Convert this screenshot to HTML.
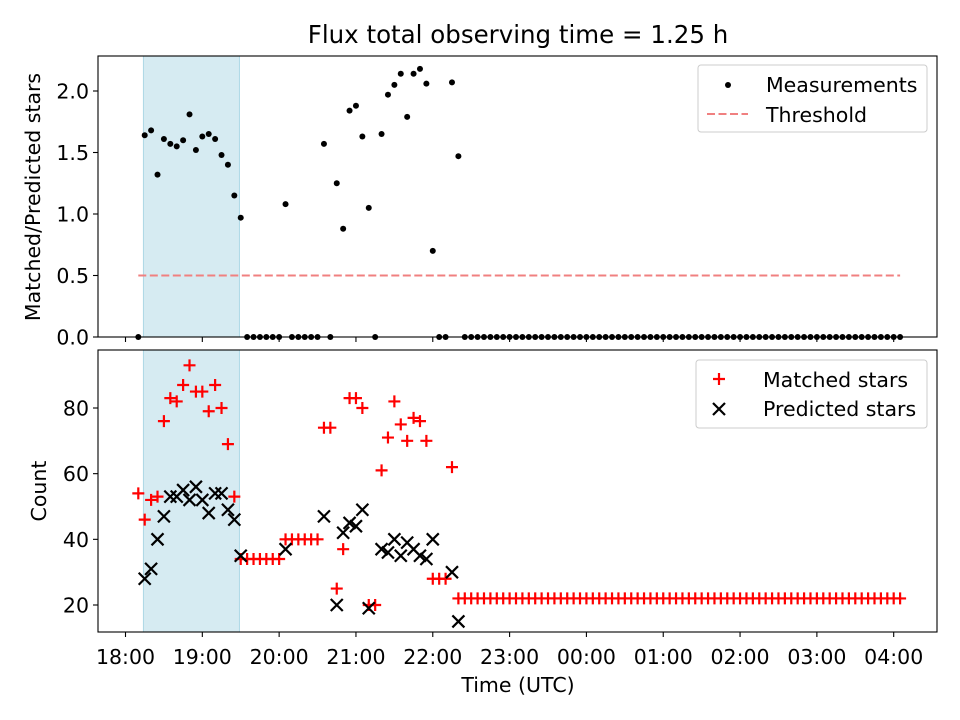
<!DOCTYPE html>
<html><head><meta charset="utf-8"><style>
body{margin:0;background:#fff;}
svg{display:block;font-family:"DejaVu Sans","Liberation Sans",sans-serif;}
</style></head><body>
<svg id="chart" width="960" height="720" viewBox="0 0 960 720" xmlns="http://www.w3.org/2000/svg"></svg>
<script>
const startMinutes = 10; // minutes after 18:00 for first sample
const stepMinutes = 5;
const xTickLabels = ["18:00","19:00","20:00","21:00","22:00","23:00","00:00","01:00","02:00","03:00","04:00"];
const ratioTicks = [0.0,0.5,1.0,1.5,2.0];
const countTicks = [20,40,60,80];
const threshold = 0.5;
const shadeStartMin = 14, shadeEndMin = 89;
const measurements = [0,1.64,1.68,1.32,1.61,1.57,1.55,1.60,1.81,1.52,1.63,1.65,1.61,1.48,1.40,1.15,0.97,0,0,0,0,0,0,1.08,0,0,0,0,0,1.57,0,1.25,0.88,1.84,1.88,1.63,1.05,0,1.65,1.97,2.05,2.14,1.79,2.14,2.18,2.06,0.70,0,0,2.07,1.47,
0,0,0,0,0,0,0,0,0,0,0,0,0,0,0,0,0,0,0,0,0,0,0,0,0,0,0,0,0,0,0,0,0,0,0,0,0,0,0,0,0,0,0,0,0,0,0,0,0,0,0,0,0,0,0,0,0,0,0,0,0,0,0,0,0,0,0,0,0];
const matched = [54,46,52,53,76,83,82,87,93,85,85,79,87,80,69,53,34,34,34,34,34,34,34,40,40,40,40,40,40,74,74,25,37,83,83,80,20,20,61,71,82,75,70,77,76,70,28,28,28,62,22,
22,22,22,22,22,22,22,22,22,22,22,22,22,22,22,22,22,22,22,22,22,22,22,22,22,22,22,22,22,22,22,22,22,22,22,22,22,22,22,22,22,22,22,22,22,22,22,22,22,22,22,22,22,22,22,22,22,22,22,22,22,22,22,22,22,22,22,22,22];
const predicted = [null,28,31,40,47,53,53,55,52,56,52,48,54,54,49,46,35,null,null,null,null,null,null,37,null,null,null,null,null,47,null,20,42,45,44,49,19,null,37,36,40,35,39,37,35,34,40,null,null,30,15];

const NS="http://www.w3.org/2000/svg";
const svg=document.getElementById('chart');
function mk(tag,attrs,parent){const e=document.createElementNS(NS,tag);for(const k in attrs)e.setAttribute(k,attrs[k]);(parent||svg).appendChild(e);return e;}
const X0=98,X1=937;
const FS=20.5;
const xs=m=>125.5+m*(768.2/600);
const TOP={y0:56,y1:337}, BOT={y0:350,y1:632};
const yr=v=>337-v*123;
const yc=v=>605-(v-20)*3.2833;
const DASH='8,3.5';

[TOP,BOT].forEach((p,k)=>{
  const r=mk('rect',{x:xs(shadeStartMin),y:p.y0,width:xs(shadeEndMin)-xs(shadeStartMin),height:p.y1-p.y0,fill:'#add8e6','fill-opacity':0.5,stroke:'#add8e6','stroke-width':1});
  
  
});

const t=mk('text',{x:518,y:43,'text-anchor':'middle','font-size':24.5});t.textContent='Flux total observing time = 1.25 h';



const tl=mk('line',{x1:xs(startMinutes),x2:xs(startMinutes+119*stepMinutes),y1:yr(threshold),y2:yr(threshold),stroke:'#f08080','stroke-width':2,'stroke-dasharray':DASH});



measurements.forEach((v,i)=>{
  const c=mk('circle',{cx:xs(startMinutes+i*stepMinutes),cy:yr(v),r:3,fill:'#000'});
  
  
});
matched.forEach((v,i)=>{
  const x=xs(startMinutes+i*stepMinutes),y=yc(v),s=6;
  const p=mk('path',{d:`M${x-s},${y}H${x+s}M${x},${y-s}V${y+s}`,stroke:'#ff0000','stroke-width':2.2});
  
  
});
predicted.forEach((v,i)=>{
  if(v===null)return;
  const x=xs(startMinutes+i*stepMinutes),y=yc(v),s=6;
  const p=mk('path',{d:`M${x-s},${y-s}L${x+s},${y+s}M${x-s},${y+s}L${x+s},${y-s}`,stroke:'#000','stroke-width':2.2});
  
  
});

[TOP,BOT].forEach((p,k)=>{
  const r=mk('rect',{x:X0,y:p.y0,width:X1-X0,height:p.y1-p.y0,fill:'none',stroke:'#000','stroke-width':1.1});
  
  
  xTickLabels.forEach((lab,j)=>{
    const x=xs(j*60);
    const tk=mk('line',{x1:x,x2:x,y1:p.y1,y2:p.y1+5,stroke:'#000','stroke-width':1.1});
    
    
    if(k){
      const tt=mk('text',{x:x,y:664,'text-anchor':'middle','font-size':FS});tt.textContent=lab;
      
      
    }
  });
});
ratioTicks.forEach(v=>{
  const y=yr(v);
  const tk=mk('line',{x1:X0-5,x2:X0,y1:y,y2:y,stroke:'#000','stroke-width':1.1});
  
  
  const tt=mk('text',{x:X0-9,y:y+7.5,'text-anchor':'end','font-size':FS});tt.textContent=v.toFixed(1);
  
  
});
countTicks.forEach(v=>{
  const y=yc(v);
  const tk=mk('line',{x1:X0-5,x2:X0,y1:y,y2:y,stroke:'#000','stroke-width':1.1});
  
  
  const tt=mk('text',{x:X0-9,y:y+7.5,'text-anchor':'end','font-size':FS});tt.textContent=v;
  
  
});
let a=mk('text',{x:0,y:0,'text-anchor':'middle','font-size':FS,transform:'translate(40,197) rotate(-90)'});a.textContent='Matched/Predicted stars';


a=mk('text',{x:0,y:0,'text-anchor':'middle','font-size':FS,transform:'translate(46,491) rotate(-90)'});a.textContent='Count';


a=mk('text',{x:518,y:692,'text-anchor':'middle','font-size':FS});a.textContent='Time (UTC)';



let g=mk('g',{});


mk('rect',{x:698,y:65,width:229,height:67,rx:3,fill:'#fff','fill-opacity':0.8,stroke:'#ccc'},g);
mk('circle',{cx:728,cy:85,r:3,fill:'#000'},g);
let lt=mk('text',{x:766,y:92,'font-size':FS},g);lt.textContent='Measurements';
mk('line',{x1:707,x2:748,y1:114,y2:114,stroke:'#f08080','stroke-width':2,'stroke-dasharray':DASH},g);
lt=mk('text',{x:766,y:122,'font-size':FS},g);lt.textContent='Threshold';
g=mk('g',{});


mk('rect',{x:696,y:360,width:231,height:68,rx:3,fill:'#fff','fill-opacity':0.8,stroke:'#ccc'},g);
mk('path',{d:'M713,379H725M719,373V385',stroke:'#ff0000','stroke-width':2.2},g);
lt=mk('text',{x:763,y:387,'font-size':FS},g);lt.textContent='Matched stars';
mk('path',{d:'M713,403L725,415M713,415L725,403',stroke:'#000','stroke-width':2.2},g);
lt=mk('text',{x:763,y:416,'font-size':FS},g);lt.textContent='Predicted stars';
</script>
</body></html>
